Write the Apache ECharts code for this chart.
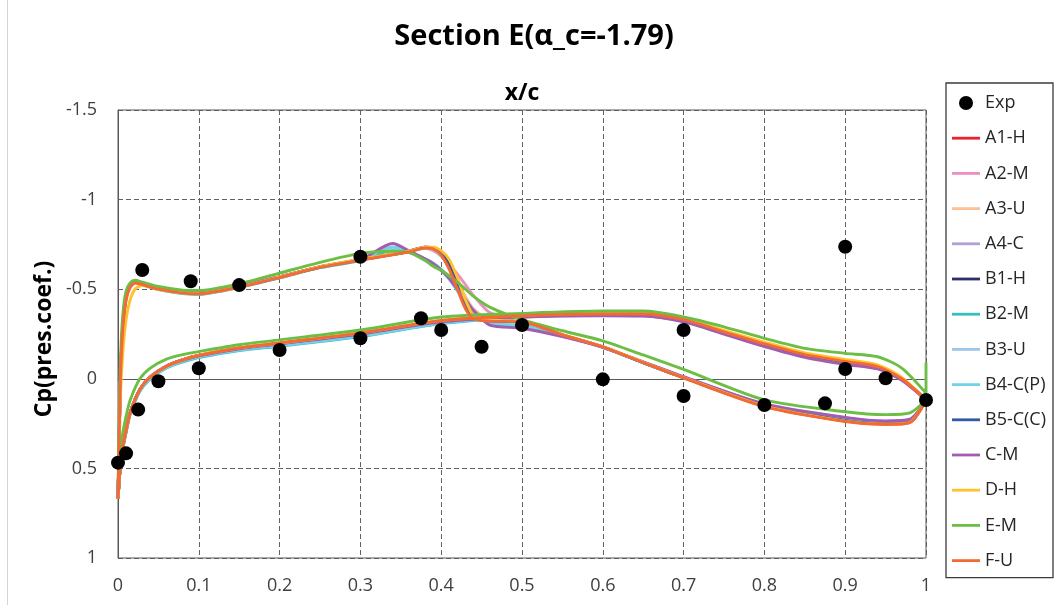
<!DOCTYPE html>
<html>
<head>
<meta charset="utf-8">
<title>Section E Cp distribution</title>
<script src="https://cdn.jsdelivr.net/npm/echarts@6/dist/echarts.min.js"></script>
<style>
  html, body { margin: 0; padding: 0; background: #fff; }
  #chart { width: 1054px; height: 605px; }
</style>
</head>
<body>
<div id="chart"></div>
<script>
// ---- chordwise stations ----
// suction branch (leading edge -> trailing edge)
const xUp = [0, 0.001, 0.003, 0.006, 0.01, 0.015, 0.021, 0.03, 0.05, 0.08, 0.1, 0.15, 0.2, 0.25, 0.3,
             0.34, 0.36, 0.38, 0.39, 0.4, 0.41, 0.42, 0.43, 0.44, 0.46, 0.5, 0.55, 0.6, 0.65, 0.7,
             0.8, 0.9, 0.95, 0.98, 1.0];
// pressure branch (leading edge -> trailing edge)
const xLo = [0, 0.001, 0.003, 0.006, 0.01, 0.015, 0.027, 0.04, 0.06, 0.08, 0.1, 0.15, 0.2, 0.3, 0.4,
             0.5, 0.6, 0.65, 0.7, 0.75, 0.8, 0.85, 0.9, 0.94, 0.97, 1.0];

// ---- experiment ----
const expX  = [0, 0.01, 0.025, 0.05, 0.1, 0.2, 0.3, 0.375, 0.4, 0.45, 0.5, 0.6, 0.7, 0.7, 0.8, 0.875,
               0.9, 0.9, 0.95, 1.0, 0.03, 0.09, 0.15, 0.3];
const expCp = [0.468, 0.416, 0.172, 0.014, -0.059, -0.161, -0.226, -0.338, -0.272, -0.179, -0.30, 0.003,
               -0.272, 0.096, 0.146, 0.137, -0.055, -0.737, -0.003, 0.118, -0.607, -0.544, -0.523, -0.681];

// ---- computed Cp, suction branch ----
const A1H_up = [0.67, 0.45, 0.0, -0.29, -0.45, -0.515, -0.538, -0.528, -0.502, -0.482, -0.478, -0.515, -0.567, -0.624, -0.664, -0.694, -0.71, -0.732, -0.727, -0.695, -0.62, -0.51, -0.40, -0.34, -0.323, -0.318, -0.245, -0.178, -0.092, -0.007, 0.152, 0.236, 0.253, 0.243, 0.118];
const A2M_up = [0.67, 0.45, 0.0, -0.29, -0.45, -0.515, -0.538, -0.528, -0.503, -0.485, -0.482, -0.518, -0.57, -0.626, -0.666, -0.697, -0.712, -0.728, -0.715, -0.685, -0.64, -0.585, -0.525, -0.465, -0.37, -0.31, -0.242, -0.176, -0.09, -0.006, 0.15, 0.232, 0.25, 0.24, 0.118];
const A3U_up = [0.67, 0.45, 0.0, -0.28, -0.44, -0.51, -0.535, -0.525, -0.50, -0.48, -0.477, -0.514, -0.567, -0.624, -0.664, -0.694, -0.71, -0.73, -0.72, -0.69, -0.625, -0.545, -0.46, -0.39, -0.33, -0.315, -0.244, -0.178, -0.09, -0.006, 0.152, 0.235, 0.252, 0.242, 0.118];
const A4C_up = [0.67, 0.45, 0.0, -0.29, -0.45, -0.515, -0.54, -0.53, -0.505, -0.485, -0.482, -0.518, -0.57, -0.625, -0.665, -0.735, -0.71, -0.67, -0.645, -0.61, -0.565, -0.505, -0.445, -0.385, -0.305, -0.285, -0.238, -0.176, -0.093, -0.01, 0.142, 0.218, 0.238, 0.228, 0.118];
const B1H_up = [0.67, 0.45, 0.0, -0.30, -0.46, -0.52, -0.54, -0.53, -0.505, -0.485, -0.48, -0.515, -0.567, -0.624, -0.664, -0.694, -0.712, -0.735, -0.732, -0.705, -0.635, -0.53, -0.42, -0.35, -0.325, -0.318, -0.245, -0.178, -0.09, -0.006, 0.15, 0.232, 0.25, 0.24, 0.118];
const B2M_up = [0.67, 0.45, 0.0, -0.29, -0.45, -0.515, -0.537, -0.525, -0.498, -0.476, -0.472, -0.51, -0.563, -0.62, -0.66, -0.715, -0.705, -0.67, -0.645, -0.61, -0.56, -0.495, -0.43, -0.37, -0.31, -0.295, -0.24, -0.177, -0.09, -0.008, 0.145, 0.225, 0.243, 0.233, 0.118];
const B3U_up = [0.67, 0.45, 0.0, -0.29, -0.45, -0.515, -0.538, -0.527, -0.501, -0.48, -0.477, -0.514, -0.566, -0.623, -0.663, -0.693, -0.709, -0.728, -0.72, -0.685, -0.615, -0.52, -0.42, -0.35, -0.325, -0.318, -0.245, -0.178, -0.09, -0.006, 0.152, 0.234, 0.251, 0.241, 0.118];
const B4CP_up = [0.67, 0.45, 0.0, -0.29, -0.45, -0.515, -0.538, -0.527, -0.50, -0.478, -0.474, -0.512, -0.565, -0.622, -0.662, -0.735, -0.71, -0.668, -0.642, -0.605, -0.555, -0.49, -0.42, -0.365, -0.31, -0.298, -0.24, -0.177, -0.09, -0.008, 0.145, 0.225, 0.243, 0.233, 0.118];
const B5CC_up = [0.67, 0.45, 0.0, -0.30, -0.46, -0.52, -0.54, -0.53, -0.505, -0.484, -0.48, -0.515, -0.567, -0.624, -0.664, -0.694, -0.712, -0.734, -0.73, -0.70, -0.625, -0.52, -0.41, -0.345, -0.324, -0.318, -0.245, -0.178, -0.09, -0.006, 0.15, 0.232, 0.25, 0.24, 0.118];
const CM_up  = [0.67, 0.45, 0.0, -0.30, -0.46, -0.52, -0.54, -0.53, -0.505, -0.485, -0.482, -0.518, -0.57, -0.625, -0.665, -0.755, -0.715, -0.668, -0.642, -0.605, -0.56, -0.50, -0.44, -0.38, -0.30, -0.282, -0.235, -0.175, -0.095, -0.012, 0.14, 0.215, 0.235, 0.225, 0.118];
const DH_up  = [0.67, 0.50, 0.10, -0.15, -0.33, -0.44, -0.50, -0.52, -0.50, -0.48, -0.477, -0.514, -0.568, -0.626, -0.667, -0.697, -0.713, -0.735, -0.735, -0.715, -0.665, -0.565, -0.44, -0.355, -0.328, -0.32, -0.247, -0.18, -0.092, -0.007, 0.153, 0.236, 0.253, 0.243, 0.118];
const EM_up  = [0.60, 0.35, -0.10, -0.36, -0.49, -0.535, -0.55, -0.54, -0.515, -0.495, -0.493, -0.53, -0.59, -0.65, -0.70, -0.712, -0.705, -0.66, -0.628, -0.605, -0.575, -0.54, -0.50, -0.46, -0.40, -0.33, -0.268, -0.212, -0.133, -0.052, 0.118, 0.184, 0.20, 0.19, 0.118];
const FU_up  = [0.67, 0.45, 0.0, -0.28, -0.44, -0.51, -0.535, -0.525, -0.50, -0.478, -0.475, -0.512, -0.565, -0.622, -0.662, -0.692, -0.708, -0.73, -0.725, -0.69, -0.61, -0.50, -0.39, -0.335, -0.322, -0.318, -0.245, -0.178, -0.09, -0.005, 0.155, 0.238, 0.255, 0.245, 0.118];

// ---- computed Cp, pressure branch ----
const A1H_lo = [0.67, 0.6, 0.48, 0.38, 0.29, 0.19, 0.06, -0.01, -0.07, -0.105, -0.13, -0.171, -0.197, -0.253, -0.323, -0.352, -0.361, -0.36, -0.328, -0.26, -0.193, -0.133, -0.095, -0.066, 0.0, 0.118];
const A2M_lo = [0.67, 0.6, 0.48, 0.38, 0.29, 0.19, 0.06, -0.012, -0.072, -0.107, -0.132, -0.172, -0.198, -0.252, -0.322, -0.35, -0.36, -0.358, -0.326, -0.258, -0.19, -0.13, -0.092, -0.064, 0.0, 0.118];
const A3U_lo = [0.67, 0.6, 0.48, 0.38, 0.29, 0.19, 0.06, -0.01, -0.07, -0.105, -0.13, -0.171, -0.198, -0.254, -0.323, -0.352, -0.362, -0.361, -0.329, -0.261, -0.194, -0.134, -0.096, -0.067, 0.0, 0.118];
const A4C_lo = [0.67, 0.6, 0.48, 0.38, 0.29, 0.19, 0.06, -0.01, -0.07, -0.103, -0.128, -0.168, -0.195, -0.25, -0.318, -0.345, -0.355, -0.352, -0.32, -0.252, -0.185, -0.125, -0.085, -0.058, 0.005, 0.118];
const B1H_lo = [0.67, 0.6, 0.48, 0.38, 0.29, 0.19, 0.06, -0.01, -0.07, -0.105, -0.13, -0.17, -0.197, -0.252, -0.322, -0.351, -0.361, -0.36, -0.328, -0.26, -0.193, -0.133, -0.095, -0.066, 0.0, 0.118];
const B2M_lo = [0.67, 0.6, 0.49, 0.39, 0.30, 0.20, 0.07, 0.0, -0.06, -0.093, -0.118, -0.157, -0.182, -0.235, -0.308, -0.345, -0.356, -0.354, -0.322, -0.255, -0.19, -0.13, -0.092, -0.064, 0.002, 0.118];
const B3U_lo = [0.67, 0.6, 0.48, 0.38, 0.29, 0.19, 0.06, -0.01, -0.07, -0.104, -0.129, -0.169, -0.196, -0.251, -0.321, -0.35, -0.36, -0.359, -0.327, -0.259, -0.192, -0.132, -0.094, -0.065, 0.0, 0.118];
const B4CP_lo = [0.67, 0.6, 0.49, 0.39, 0.30, 0.20, 0.068, -0.002, -0.062, -0.096, -0.121, -0.16, -0.185, -0.238, -0.31, -0.346, -0.357, -0.355, -0.323, -0.256, -0.19, -0.13, -0.092, -0.064, 0.002, 0.118];
const B5CC_lo = [0.67, 0.6, 0.48, 0.38, 0.29, 0.19, 0.06, -0.01, -0.07, -0.105, -0.13, -0.17, -0.197, -0.252, -0.322, -0.351, -0.361, -0.36, -0.328, -0.26, -0.193, -0.133, -0.095, -0.066, 0.0, 0.118];
const CM_lo  = [0.67, 0.6, 0.48, 0.38, 0.29, 0.19, 0.06, -0.01, -0.07, -0.103, -0.128, -0.168, -0.195, -0.25, -0.318, -0.345, -0.352, -0.35, -0.318, -0.25, -0.18, -0.12, -0.08, -0.055, 0.008, 0.118];
const DH_lo  = [0.67, 0.6, 0.48, 0.38, 0.29, 0.19, 0.06, -0.01, -0.07, -0.106, -0.132, -0.173, -0.2, -0.256, -0.326, -0.356, -0.366, -0.366, -0.336, -0.27, -0.205, -0.145, -0.108, -0.078, -0.008, 0.118];
const EM_lo  = [0.60, 0.52, 0.40, 0.30, 0.21, 0.12, 0.0, -0.06, -0.11, -0.135, -0.152, -0.19, -0.217, -0.272, -0.345, -0.365, -0.378, -0.378, -0.345, -0.29, -0.226, -0.17, -0.142, -0.123, -0.06, 0.08];
const FU_lo  = [0.67, 0.6, 0.48, 0.38, 0.29, 0.19, 0.06, -0.01, -0.07, -0.105, -0.13, -0.172, -0.2, -0.255, -0.325, -0.352, -0.362, -0.362, -0.33, -0.262, -0.195, -0.135, -0.097, -0.068, 0.0, 0.118];
// closing point of the E-M contour at the trailing edge
const EM_tail = [[1.0, -0.09]];

// ---- series list ----
const names  = ['A1-H', 'A2-M', 'A3-U', 'A4-C', 'B1-H', 'B2-M', 'B3-U', 'B4-C(P)', 'B5-C(C)', 'C-M', 'D-H', 'E-M', 'F-U'];
const colors = ['#E8232B', '#EE8FC1', '#FCC095', '#B29FD6', '#2B2F6B', '#35BDBF', '#9DC6EA', '#72D3E8', '#2F5AA6', '#A25DB0', '#FFC12E', '#6DBE45', '#F26B35'];
const upper  = [A1H_up, A2M_up, A3U_up, A4C_up, B1H_up, B2M_up, B3U_up, B4CP_up, B5CC_up, CM_up, DH_up, EM_up, FU_up];
const lower  = [A1H_lo, A2M_lo, A3U_lo, A4C_lo, B1H_lo, B2M_lo, B3U_lo, B4CP_lo, B5CC_lo, CM_lo, DH_lo, EM_lo, FU_lo];
const tails  = { 'E-M': EM_tail };

// closed contour: trailing edge -> leading edge along suction side, then back along pressure side
function contour(up, lo, tail) {
  const pts = [];
  for (let i = up.length - 1; i >= 0; i--) pts.push([xUp[i], up[i]]);
  for (let i = 1; i < lo.length; i++) pts.push([xLo[i], lo[i]]);
  if (tail) tail.forEach(p => pts.push(p));
  return pts;
}

const FONT = '"Open Sans", "Noto Sans", sans-serif';
const TXT = '#404040';
const GRIDLINE = { color: '#606060', type: [5, 3], width: 1 };
// plain stroke for the legend swatch of each computed curve (box is 28 x 14)
const LINE_ICON = 'path://M0,0 L0,0 M0,5.6 L28,5.6 L28,8.4 L0,8.4 Z M28,14 L28,14';

const series = [];
names.forEach((n, i) => {
  series.push({
    name: n,
    type: 'line',
    data: contour(upper[i], lower[i], tails[n]),
    smooth: 0.25,
    symbol: 'none',
    showSymbol: false,
    lineStyle: { color: colors[i], width: 2.9 },
    itemStyle: { color: colors[i] },
    z: 2 + i * 0.01
  });
});
series.push({
  name: 'Exp',
  type: 'scatter',
  data: expX.map((x, i) => [x, expCp[i]]),
  symbol: 'circle',
  symbolSize: 14,
  itemStyle: { color: '#000', opacity: 1 },
  z: 5
});

const chart = echarts.init(document.getElementById('chart'), null, { renderer: 'canvas' });
chart.setOption({
  animation: false,
  backgroundColor: '#fff',
  grid: { left: 118, top: 110, right: 128, bottom: 47, show: true, borderColor: '#595959', borderWidth: 1, backgroundColor: 'transparent' },
  xAxis: {
    type: 'value', min: 0, max: 1, interval: 0.1,
    axisLine: { show: true, lineStyle: { color: '#595959' } },
    axisTick: { show: false },
    axisLabel: { color: TXT, fontFamily: FONT, fontSize: 18, margin: 19 },
    splitLine: { show: true, lineStyle: GRIDLINE }
  },
  yAxis: {
    type: 'value', min: -1.5, max: 1, interval: 0.5, inverse: true,
    axisLine: { show: true, lineStyle: { color: '#595959' } },
    axisTick: { show: false },
    axisLabel: { color: TXT, fontFamily: FONT, fontSize: 18, margin: 21 },
    splitLine: { show: true, lineStyle: GRIDLINE }
  },
  legend: {
    orient: 'vertical', left: 946, top: 83,
    padding: [11, 7, 8, 6],
    itemWidth: 28, itemHeight: 14, itemGap: 17.2,
    borderColor: '#3a3a3a', borderWidth: 1.3,
    textStyle: { fontFamily: FONT, fontSize: 18, color: '#262626', lineHeight: 18 },
    data: [{ name: 'Exp', icon: 'circle', itemStyle: { opacity: 1 } }]
      .concat(names.map(n => ({ name: n, icon: LINE_ICON })))
  },
  graphic: [
    { type: 'line', shape: { x1: 7.5, y1: 0, x2: 7.5, y2: 605 }, style: { stroke: '#d4d4d4', lineWidth: 1 }, silent: true },
    { type: 'text', x: 534, y: 37, style: { text: 'Section E(α_c=-1.79)', font: 'bold 29px ' + FONT, fill: '#000', textAlign: 'center', textVerticalAlign: 'middle' } },
    { type: 'text', x: 522, y: 93, style: { text: 'x/c', font: 'bold 23px ' + FONT, fill: '#000', textAlign: 'center', textVerticalAlign: 'middle' } },
    { type: 'text', x: 44, y: 339, rotation: Math.PI / 2, style: { text: 'Cp(pres.coef.)', font: 'bold 23px ' + FONT, fill: '#000', textAlign: 'center', textVerticalAlign: 'middle' } }
  ],
  series: series
});
</script>
</body>
</html>
